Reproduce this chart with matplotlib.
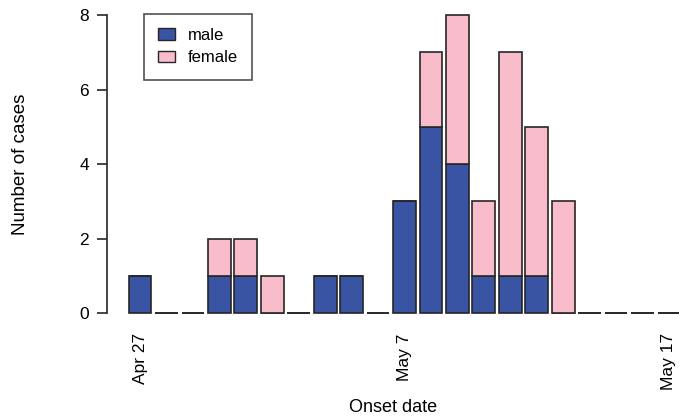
import matplotlib
matplotlib.use("Agg")
import matplotlib.pyplot as plt
from matplotlib.patches import Patch

plt.rcParams['font.family'] = ['Liberation Sans', 'DejaVu Sans']

# daily case counts, Apr 27 .. May 17
days = ['Apr 27', 'Apr 28', 'Apr 29', 'Apr 30', 'May 1', 'May 2', 'May 3',
        'May 4', 'May 5', 'May 6', 'May 7', 'May 8', 'May 9', 'May 10',
        'May 11', 'May 12', 'May 13', 'May 14', 'May 15', 'May 16', 'May 17']
male = [1, 0, 0, 1, 1, 0, 0, 1, 1, 0, 3, 5, 4, 1, 1, 1, 0, 0, 0, 0, 0]
female = [0, 0, 0, 1, 1, 1, 0, 0, 0, 0, 0, 2, 4, 2, 6, 4, 3, 0, 0, 0, 0]
tick_days = ['Apr 27', 'May 7', 'May 17']

male_col = '#3a54a4'
female_col = '#f9bccb'
edge = '#262626'

fig = plt.figure(figsize=(6.79, 4.16), dpi=100)
ax = fig.add_axes([107 / 679, 0.2387, 1 - 107 / 679, 0.734])

x = list(range(len(days)))
ax.bar(x, male, width=0.86, color=male_col, edgecolor=edge, linewidth=1.2,
       clip_on=False)
ax.bar(x, female, width=0.86, bottom=male, color=female_col, edgecolor=edge,
       linewidth=1.2, clip_on=False)

ax.set_xlim(-1.25, 20.38)
ax.set_ylim(-0.1, 8.1)

for s in ['top', 'right', 'bottom']:
    ax.spines[s].set_visible(False)
ax.spines['left'].set_bounds(0, 8)
ax.spines['left'].set_linewidth(1.2)
ax.spines['left'].set_color(edge)

ax.set_yticks([0, 2, 4, 6, 8])
ax.tick_params(axis='y', direction='out', length=7, width=1.2, color=edge,
               labelsize=12.5, pad=6)
ax.set_xticks([days.index(d) for d in tick_days])
ax.set_xticklabels(tick_days, rotation=90, fontsize=12.5)
ax.tick_params(axis='x', length=0, pad=12)

ax.set_ylabel('Number of cases', fontsize=13.5, labelpad=36)
ax.set_xlabel('Onset date', fontsize=13, labelpad=6)

handles = [Patch(facecolor=male_col, edgecolor=edge, label='male'),
           Patch(facecolor=female_col, edgecolor=edge, label='female')]
leg = ax.legend(handles=handles, loc='upper left', bbox_to_anchor=(0.0647, 0.992),
                frameon=True, fancybox=False, edgecolor=edge, fontsize=12,
                handlelength=1.0, handleheight=0.7, borderpad=0.85,
                labelspacing=0.45, handletextpad=0.8, borderaxespad=0)
leg.get_frame().set_linewidth(1.2)

fig.savefig('out.png', dpi=100)
